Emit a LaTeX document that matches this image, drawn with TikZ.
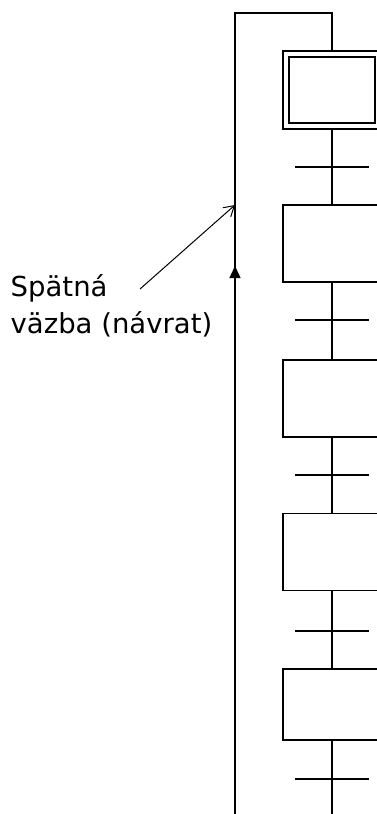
\documentclass[tikz,border=0pt]{standalone}
\usepackage{fontspec}
\setmainfont{DejaVu Sans}
\usetikzlibrary{arrows.meta}

\begin{document}
\begin{tikzpicture}[x=1pt,y=-1pt,
    line width=1.4pt,
    stepbox/.style={draw, minimum width=98pt, minimum height=77pt, inner sep=0pt},
    pointer/.style={line width=1pt, -{Straight Barb[length=10pt,width=12pt,line width=1pt]}}]
            \useasboundingbox (0,0) rectangle (377,814);

            \node[
                stepbox,
                minimum height=78pt,
                name=s0
            ] at (332,90) {};
            \node[
                draw,
                minimum width=86pt,
                minimum height=66pt,
                inner sep=0pt,
                name=s0in
            ] at (332,90) {};

            \node[
                stepbox,
                name=s1
            ] at (332,243.5) {};
            \node[
                stepbox,
                name=s2
            ] at (332,398.5) {};
            \node[
                stepbox,
                name=s3
            ] at (332,552) {};
            \node[
                stepbox,
                minimum height=71pt,
                name=s4
            ] at (332,704.5) {};

            \coordinate (end) at (332,814);

            \draw (s0) -- (s1);
            \draw (s1) -- (s2);
            \draw (s2) -- (s3);
            \draw (s3) -- (s4);
            \draw (s4) -- (end);

            % transitions
            \draw (295,167) -- (369,167);
            \draw (295,320) -- (369,320);
            \draw (295,475) -- (369,475);
            \draw (295,631) -- (369,631);
            \draw (295,779) -- (369,779);

            % return line
            \coordinate (ret) at (235,814);
            \coordinate (top) at (235,13);
            \draw[-{Triangle[length=12pt,width=11pt]}] (ret) -- (235,266);
            \draw (235,270) -- (top) -| (s0.north);

            \node[
                align=left,
                inner sep=0pt,
                anchor=base west,
                font=\fontsize{27.5}{37}\selectfont,
                name=lbl
            ] at (10,333) {Spätná\\väzba (návrat)};

            \coordinate (ptr) at (140,289);
            \coordinate (fb) at (235,205);
            \draw[pointer] (ptr) -- (fb);
        \end{tikzpicture}
\end{document}
